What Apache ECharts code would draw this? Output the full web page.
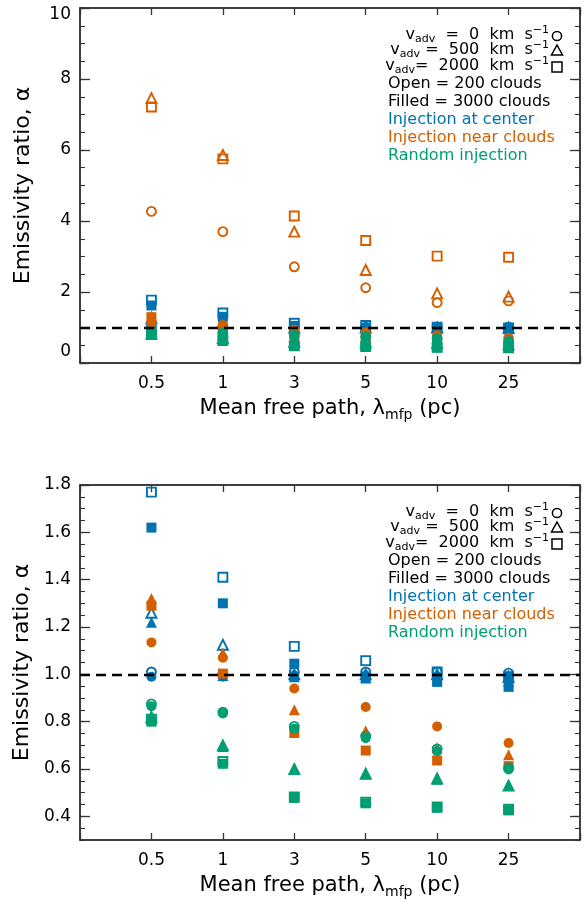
<!DOCTYPE html>
<html><head><meta charset="utf-8">
<script src="https://cdn.jsdelivr.net/npm/echarts@6/dist/echarts.min.js"></script>
<style>html,body{margin:0;padding:0;background:#fff}#c{width:584px;height:903px}</style>
</head><body><div id="c"></div><script>
// ---- data ----
const categories = ['0.5', '1', '3', '5', '10', '25'];
const topTicks = [0, 2, 4, 6, 8, 10];
const bottomTicks = [0.4, 0.6, 0.8, 1.0, 1.2, 1.4, 1.6, 1.8];
const refLevel = 1.0;
// Injection at center (blue); open = 200 clouds, filled = 3000 clouds
const centerOpenCircle   = [1.01, 1.00, 1.01, 1.01, 1.01, 1.005];
const centerOpenTriangle = [1.26, 1.125, 1.00, 1.00, 1.00, 0.99];
const centerOpenSquare   = [1.77, 1.41, 1.118, 1.058, 1.01, 0.99];
const centerFillCircle   = [0.99, 0.99, 0.995, 0.995, 0.99, 0.99];
const centerFillTriangle = [1.22, 0.995, 0.99, 0.985, 0.98, 0.97];
const centerFillSquare   = [1.62, 1.30, 1.045, 0.985, 0.968, 0.947];
// Injection near clouds (orange)
const nearOpenCircle     = [4.27, 3.70, 2.71, 2.12, 1.70, 1.75];
const nearOpenTriangle   = [7.46, 5.86, 3.70, 2.62, 1.96, 1.87];
const nearOpenSquare     = [7.21, 5.75, 4.14, 3.45, 3.01, 2.98];
const nearFillCircle     = [1.135, 1.07, 0.94, 0.862, 0.78, 0.71];
const nearFillTriangle   = [1.32, 1.09, 0.85, 0.762, 0.69, 0.66];
const nearFillSquare     = [1.29, 1.003, 0.752, 0.678, 0.636, 0.612];
// Random injection (green)
const randOpenCircle     = [0.875, 0.84, 0.78, 0.74, 0.685, 0.605];
const randOpenTriangle   = [0.82, 0.70, 0.60, 0.58, 0.56, 0.53];
const randOpenSquare     = [0.81, 0.632, 0.482, 0.46, 0.44, 0.43];
const randFillCircle     = [0.865, 0.835, 0.77, 0.73, 0.675, 0.598];
const randFillTriangle   = [0.815, 0.695, 0.60, 0.58, 0.557, 0.53];
const randFillSquare     = [0.80, 0.622, 0.478, 0.455, 0.436, 0.425];

const BLUE = '#0072B2', ORANGE = '#D55E00', GREEN = '#009E73';
const FONT = 'DejaVu Sans';

const groups = [
  {color: BLUE, open: [centerOpenCircle, centerOpenTriangle, centerOpenSquare], fill: [centerFillCircle, centerFillTriangle, centerFillSquare], inBottom: [true, true]},
  {color: ORANGE, open: [nearOpenCircle, nearOpenTriangle, nearOpenSquare], fill: [nearFillCircle, nearFillTriangle, nearFillSquare], inBottom: [false, true]},
  {color: GREEN, open: [randOpenCircle, randOpenTriangle, randOpenSquare], fill: [randFillCircle, randFillTriangle, randFillSquare], inBottom: [true, true]}
];
const shapes = ['circle', 'triangle', 'rect'];
const sizes = {circle: 10, triangle: 11, rect: 10};

function pts(arr) { return arr.map((v, i) => [i + 1, v]); }

const series = [];
function addSeries(arr, shape, filled, color, xi, yi) {
  series.push({
    type: 'scatter', xAxisIndex: xi, yAxisIndex: yi, z: 3,
    symbol: shape,
    symbolSize: filled ? sizes[shape] : sizes[shape] - 1,
    itemStyle: filled ? {color: color, opacity: 1} : {color: 'rgba(0,0,0,0)', borderColor: color, borderWidth: 1.9, opacity: 1},
    data: pts(arr), silent: true
  });
}
[0, 1].forEach(panel => {
  const xi = panel * 2, yi = panel * 4;
  series.push({
    type: 'scatter', xAxisIndex: xi, yAxisIndex: yi, data: [], z: 1, silent: true,
    markLine: {silent: true, symbol: 'none', label: {show: false},
      lineStyle: {color: '#000', type: [10, 6], width: 2.4, opacity: 1}, data: [{yAxis: refLevel}]}
  });
  groups.forEach(g => {
    if (panel === 0 || g.inBottom[0]) g.open.forEach((a, k) => addSeries(a, shapes[k], false, g.color, xi, yi));
    if (panel === 0 || g.inBottom[1]) g.fill.forEach((a, k) => addSeries(a, shapes[k], true, g.color, xi, yi));
  });
});

const grids = [
  {left: 80, top: 8, width: 500, height: 355},
  {left: 80, top: 485, width: 500, height: 355}
];
const axLine = {show: true, onZero: false, lineStyle: {color: '#000', width: 1.5}};
const titleRich = {
  n: {fontFamily: FONT, fontSize: 21, color: '#000'},
  s: {fontFamily: FONT, fontSize: 14, color: '#000', padding: [12, 0, 0, 0]}
};
const xAxes = [];
[0, 1].forEach(p => {
  xAxes.push({
    type: 'value', gridIndex: p, min: 0, max: categories.length + 1, interval: 1, position: 'bottom',
    axisLine: axLine, splitLine: {show: false},
    axisTick: {show: true, inside: true, length: 7, lineStyle: {color: '#333', width: 1.3}},
    axisLabel: {show: true, margin: 12, fontFamily: FONT, fontSize: 17, color: '#000',
      formatter: v => (v >= 1 && v <= categories.length) ? categories[v - 1] : ''},
    name: '{n|Mean free path, λ}{s|mfp}{n| (pc)}', nameLocation: 'middle', nameGap: 33,
    nameTextStyle: {rich: titleRich}
  });
  xAxes.push({
    type: 'value', gridIndex: p, min: 0, max: categories.length + 1, interval: 1, position: 'top',
    axisLine: axLine, splitLine: {show: false},
    axisTick: {show: true, inside: true, length: 7, lineStyle: {color: '#333', width: 1.3}},
    axisLabel: {show: false}
  });
});

const labelRich = {
  hi: {fontFamily: FONT, fontSize: 17, color: '#000', padding: [14, 0, 0, 0]},
  lo: {fontFamily: FONT, fontSize: 17, color: '#000', padding: [0, 0, 22, 0]}
};
const yAxes = [];
function yMain(p, pos, min, max, ticks, fmt, showLabel) {
  return {
    type: 'value', gridIndex: p, position: pos, min: min, max: max,
    axisLine: axLine, splitLine: {show: false},
    axisTick: {show: true, inside: true, length: 10, customValues: ticks, lineStyle: {color: '#333', width: 1.3}},
    axisLabel: {show: showLabel, customValues: ticks, margin: 9, fontFamily: FONT, fontSize: 17, color: '#000', formatter: fmt, rich: labelRich},
    name: showLabel ? 'Emissivity ratio, α' : '', nameLocation: 'middle', nameGap: 46, nameRotate: 90,
    nameTextStyle: {fontFamily: FONT, fontSize: 22, color: '#000'}
  };
}
function yMinor(p, pos, min, max, step) {
  return {
    type: 'value', gridIndex: p, position: pos, min: min, max: max, interval: step,
    axisLine: {show: false, onZero: false}, splitLine: {show: false}, axisLabel: {show: false},
    axisTick: {show: true, inside: true, length: 5, lineStyle: {color: '#333', width: 1.1}}
  };
}
const topFmt = v => v === 10 ? '{hi|10}' : (v === 0 ? '{lo|0}' : String(v));
const botFmt = v => v.toFixed(1);
yAxes.push(yMain(0, 'left', 0, 10, topTicks, topFmt, true));
yAxes.push(yMain(0, 'right', 0, 10, topTicks, topFmt, false));
yAxes.push(yMinor(0, 'left', 0, 10, 0.5));
yAxes.push(yMinor(0, 'right', 0, 10, 0.5));
yAxes.push(yMain(1, 'left', 0.3, 1.8, bottomTicks, botFmt, true));
yAxes.push(yMain(1, 'right', 0.3, 1.8, bottomTicks, botFmt, false));
yAxes.push(yMinor(1, 'left', 0.3, 1.8, 0.05));
yAxes.push(yMinor(1, 'right', 0.3, 1.8, 0.05));

// ---- legend text blocks ----
const graphics = [];
const legRich = {
  sub: {fontFamily: FONT, fontSize: 11, fill: '#000', padding: [9, 0, 0, 0]},
  sup: {fontFamily: FONT, fontSize: 11, fill: '#000', padding: [0, 0, 9, 0]}
};
const vLines = ['v{sub|adv}  =  0  km  s{sup|−1}', 'v{sub|adv} =  500  km  s{sup|−1}', 'v{sub|adv}=  2000  km  s{sup|−1}'];
const infoLines = [
  ['Open = 200 clouds', '#000'], ['Filled = 3000 clouds', '#000'],
  ['Injection at center', BLUE], ['Injection near clouds', ORANGE], ['Random injection', GREEN]
];
[8, 485].forEach(top => {
  const vy = [top + 27, top + 42, top + 58];
  vLines.forEach((t, i) => {
    graphics.push({type: 'text', x: 549, y: vy[i], z: 10, silent: true,
      style: {text: t, font: '16px ' + FONT, fill: '#000', align: 'right', verticalAlign: 'middle', rich: legRich}});
  });
  graphics.push({type: 'circle', shape: {cx: 557, cy: vy[0] + 1, r: 4.6}, z: 10, silent: true,
    style: {fill: 'none', stroke: '#000', lineWidth: 1.5}});
  graphics.push({type: 'polygon', shape: {points: [[557, vy[1] - 5], [562.5, vy[1] + 5], [551.5, vy[1] + 5]]}, z: 10, silent: true,
    style: {fill: 'none', stroke: '#000', lineWidth: 1.5}});
  graphics.push({type: 'rect', shape: {x: 552, y: vy[2] - 4, width: 10, height: 10}, z: 10, silent: true,
    style: {fill: 'none', stroke: '#000', lineWidth: 1.5}});
  infoLines.forEach((l, i) => {
    graphics.push({type: 'text', x: 388, y: top + 76 + i * 18, z: 10, silent: true,
      style: {text: l[0], font: '16px ' + FONT, fill: l[1], align: 'left', verticalAlign: 'middle'}});
  });
});

const chart = echarts.init(document.getElementById('c'), null, {renderer: 'canvas'});
chart.setOption({
  animation: false,
  backgroundColor: '#fff',
  grid: grids,
  xAxis: xAxes,
  yAxis: yAxes,
  series: series,
  graphic: graphics
});
</script></body></html>
